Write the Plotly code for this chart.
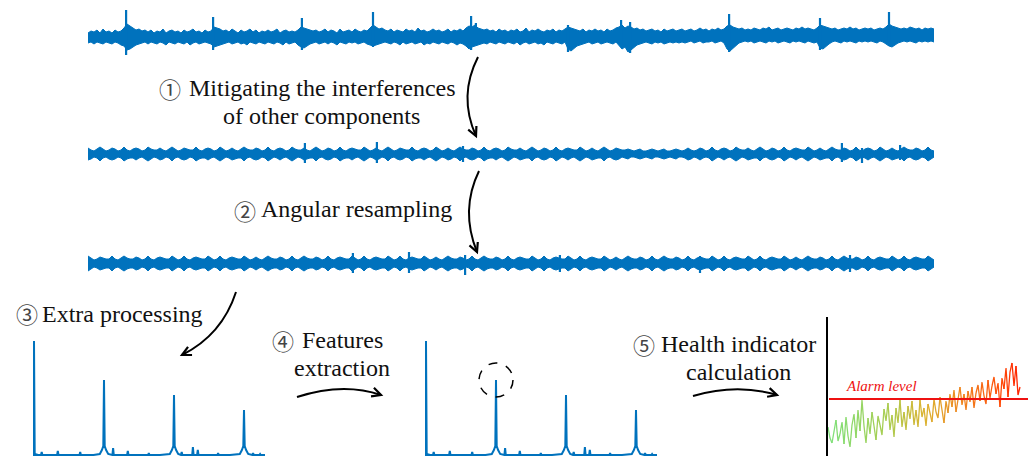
import plotly.graph_objects as go

W, H = 1033, 456
BLUE = "#0072BD"

# ---------------- data ----------------
# Raw vibration signal: upper / lower envelope (amplitude units) per time bin
sig1_up = [4,6,5,7,4,8,5,6,4,7,5,6,9,13,11,9,7,8,6,7,
           5,7,4,6,5,8,4,6,7,5,6,4,7,5,6,8,5,6,4,7,
           5,6,10,9,8,6,7,5,8,6,4,7,5,6,8,5,7,4,6,5,
           7,5,6,8,4,6,7,5,6,5,7,10,9,8,7,6,7,5,6,8,
           5,7,6,4,8,5,6,7,5,8,6,5,7,6,9,12,10,8,9,7,
           6,8,5,7,6,5,8,6,7,5,9,6,7,5,6,8,6,7,5,6,
           8,5,7,6,8,6,9,11,10,12,9,8,7,8,6,7,5,8,6,7,
           5,7,6,8,5,6,9,5,7,6,8,6,5,7,6,8,5,7,6,8,
           10,9,8,7,6,8,5,7,6,8,6,7,5,8,6,7,9,10,12,9,
           11,10,8,9,7,8,6,7,8,6,7,5,8,6,7,8,6,7,8,6,
           7,8,6,7,9,7,8,6,8,7,9,7,8,11,12,10,9,8,9,7,
           8,7,9,8,7,9,8,10,7,8,9,7,8,9,8,7,9,8,10,8,
           9,8,7,9,12,11,10,9,8,9,7,8,9,8,10,8,9,7,8,9,
           8,9,7,8,9,8,10,13,11,10,9,8,9,8,10,9,8,9,7,9,
           8,9,8]
sig1_lo = [6,5,7,5,6,7,5,6,7,5,6,8,9,13,12,10,8,7,6,5,
           7,5,6,7,5,6,8,5,6,7,5,6,7,5,8,6,5,7,6,5,
           6,7,10,9,8,7,6,5,7,6,5,7,6,8,5,6,7,5,6,7,
           5,6,7,5,6,8,5,7,6,5,8,10,11,9,7,6,5,7,6,5,
           7,5,6,8,5,6,7,5,6,5,7,6,5,7,8,9,8,7,6,5,
           6,7,5,6,8,5,7,6,5,7,6,5,8,6,7,5,6,7,5,6,
           7,5,6,8,6,7,9,12,10,9,8,7,6,7,5,6,7,5,6,7,
           5,6,7,5,8,6,5,7,6,5,7,6,8,5,6,7,5,6,7,5,
           12,14,11,9,8,7,6,5,7,6,5,7,6,5,6,7,5,8,12,10,
           15,13,10,8,7,6,5,6,7,5,6,5,7,6,5,6,5,6,5,6,
           5,4,6,5,4,6,5,5,4,6,5,4,6,12,14,11,8,6,5,4,
           5,4,6,5,4,5,6,4,5,4,6,5,4,5,6,4,5,4,5,6,
           4,5,6,5,11,12,9,7,5,4,5,6,4,5,4,5,6,4,5,4,
           5,4,5,6,4,5,7,9,10,8,6,5,4,5,4,5,6,4,5,4,
           5,4,5]
sig1_spike_t = [12.7, 41.7, 71.3, 95.0, 127.7, 129.3, 160.0, 177.7, 180.7, 213.7, 244.0, 267.0]
sig1_spike_up = [27, 20, 19, 25, 21, 14, 12, 17, 15, 23, 19, 25]
sig1_spike_lo = [18, 13, 13, 10, 13, 8, 15, 10, 16, 15, 13, 9]

# Signal after mitigating other components
sig2_up = [6,4,3,5,7,5,3,4,6,5,3,4,7,4,3,5,6,5,3,4,
           7,5,4,4,6,4,3,5,7,5,3,4,6,5,4,4,7,4,3,5,
           6,5,3,4,7,5,3,4,6,4,3,5,7,5,4,4,6,5,3,4,
           7,4,3,5,6,5,3,4,7,5,4,4,6,4,3,5,7,5,3,4,
           6,5,3,4,7,4,3,5,6,5,4,4,7,5,3,4,6,4,3,5,
           7,5,3,4,6,5,4,4,7,4,3,5,6,5,3,4,7,5,3,4,
           6,4,3,5,7,5,4,4,6,5,3,4,7,4,3,5,6,5,3,4,
           7,5,4,4,6,4,3,5,7,5,3,4,6,5,3,4,7,4,3,5,
           6,5,4,4,7,5,3,4,6,4,3,5,7,5,3,4,6,5,4,4,
           5,4,3,4,5,3,3,4,5,4,3,4,5,3,3,4,5,4,3,4,
           6,4,3,4,6,5,3,4,7,4,3,5,6,5,3,4,7,5,4,4,
           6,4,3,5,7,5,3,4,6,5,3,4,7,4,3,5,6,5,4,4,
           7,5,3,4,6,4,3,5,7,5,4,4,6,5,3,4,7,4,3,5,
           6,5,3,4,7,5,3,4,6,4,3,5,7,5,4,4,6,5,3,4,
           7,4,3]
sig2_lo = [6,5,3,4,7,4,3,5,6,5,3,4,7,5,4,4,6,4,3,5,
           7,5,3,4,6,5,3,4,7,4,3,5,6,5,3,4,7,5,4,4,
           6,4,3,5,7,5,3,4,6,5,4,4,7,4,3,5,6,5,3,4,
           7,5,3,4,6,4,3,5,7,5,3,4,6,5,4,4,7,4,3,5,
           6,5,3,4,7,5,4,4,6,4,3,5,7,5,3,4,6,5,3,4,
           7,4,3,5,6,5,3,4,7,5,4,4,6,4,3,5,7,5,3,4,
           6,5,3,4,7,4,3,5,6,5,3,4,7,5,4,4,6,4,3,5,
           7,5,3,4,6,5,4,4,7,4,3,5,6,5,3,4,7,5,3,4,
           6,4,3,5,7,5,3,4,6,5,4,4,7,4,3,5,6,5,3,4,
           5,3,3,4,5,4,3,4,5,3,3,4,5,4,3,4,5,3,3,4,
           6,5,3,4,6,4,3,4,7,5,3,4,6,4,3,5,7,5,3,4,
           6,5,4,4,7,4,3,5,6,5,3,4,7,5,3,4,6,4,3,5,
           7,5,3,4,6,5,4,4,7,4,3,5,6,5,3,4,7,5,3,4,
           6,4,3,5,7,5,3,4,6,5,4,4,7,4,3,5,6,5,3,4,
           7,5,3]
sig2_spike_t = [72.3, 96.3, 125.0, 251.3, 258.0, 270.7]
sig2_spike_up = [11, 12, 8, 11, 6, 9]
sig2_spike_lo = [9, 9, 8, 8, 9, 6]

# Angular-resampled signal
sig3_up = [8,6,4,5,7,6,5,5,8,5,4,6,8,6,5,5,7,6,4,5,
           8,5,4,6,7,6,5,5,8,6,4,5,8,5,4,6,7,6,5,5,
           8,6,4,5,8,5,4,6,7,6,5,5,8,6,4,5,7,5,4,6,
           8,6,5,5,7,6,4,5,8,5,4,6,8,6,5,5,7,6,4,5,
           8,5,4,6,7,6,5,5,8,6,4,5,8,5,4,6,7,6,5,5,
           8,6,4,5,8,5,4,6,7,6,5,5,8,6,4,5,7,5,4,6,
           8,6,5,5,7,6,4,5,8,5,4,6,8,6,5,5,7,6,4,5,
           8,5,4,6,7,6,5,5,8,6,4,5,8,5,4,6,7,6,5,5,
           8,6,4,5,8,5,4,6,7,6,5,5,8,6,4,5,7,5,4,6,
           8,6,5,5,7,6,4,5,8,5,4,6,8,6,5,5,7,6,4,5,
           8,5,4,6,7,6,5,5,8,6,4,5,8,5,4,6,7,6,5,5,
           8,6,4,5,8,5,4,6,7,6,5,5,8,6,4,5,7,5,4,6,
           8,6,5,5,7,6,4,5,8,5,4,6,8,6,5,5,7,6,4,5,
           8,5,4,6,7,6,5,5,8,6,4,5,8,5,4,6,7,6,5,5,
           8,6,4]
sig3_lo = [7,5,3,4,6,5,4,4,7,4,3,5,7,5,4,4,6,5,3,4,
           7,4,3,5,6,5,4,4,7,5,3,4,7,4,3,5,6,5,4,4,
           7,5,3,4,7,4,3,5,6,5,4,4,7,5,3,4,6,4,3,5,
           7,5,4,4,6,5,3,4,7,4,3,5,7,5,4,4,6,5,3,4,
           7,4,3,5,6,5,4,4,7,5,3,4,7,4,3,5,6,5,4,4,
           7,5,3,4,7,4,3,5,6,5,4,4,7,5,3,4,6,4,3,5,
           7,5,4,4,6,5,3,4,7,4,3,5,7,5,4,4,6,5,3,4,
           7,4,3,5,6,5,4,4,7,5,3,4,7,4,3,5,6,5,4,4,
           7,5,3,4,7,4,3,5,6,5,4,4,7,5,3,4,6,4,3,5,
           7,5,4,4,6,5,3,4,7,4,3,5,7,5,4,4,6,5,3,4,
           7,4,3,5,6,5,4,4,7,5,3,4,7,4,3,5,6,5,4,4,
           7,5,3,4,7,4,3,5,6,5,4,4,7,5,3,4,6,4,3,5,
           7,5,4,4,6,5,3,4,7,4,3,5,7,5,4,4,6,5,3,4,
           7,4,3,5,6,5,4,4,7,5,3,4,7,4,3,5,6,5,4,4,
           7,5,3]
sig3_spike_t = [88.3, 107.0, 125.7, 157.3, 204.0, 254.0]
sig3_spike_up = [11, 12, 9, 9, 8, 9]
sig3_spike_lo = [9, 9, 11, 8, 9, 8]

# Order spectrum (orders, amplitude)
spec_freq = [0.00, 0.00, 0.01, 0.06, 0.10, 0.11, 0.12, 0.18, 0.33, 0.34, 0.35, 0.45, 0.65, 0.66, 0.67,
             0.85, 0.94, 0.97, 0.99, 1.00, 1.01, 1.03, 1.06, 1.12, 1.13, 1.14, 1.26, 1.33, 1.34, 1.35,
             1.50, 1.63, 1.64, 1.65, 1.80, 1.94, 1.97, 1.99, 2.00, 2.01, 2.03, 2.06, 2.10, 2.11, 2.12,
             2.18, 2.26, 2.27, 2.28, 2.33, 2.34, 2.35, 2.50, 2.62, 2.63, 2.64, 2.80, 2.94, 2.97, 2.99,
             3.00, 3.01, 3.03, 3.06, 3.12, 3.13, 3.14, 3.22, 3.23, 3.24, 3.30]
spec_amp = [0, 115, 2, 1, 1, 4, 1, 1, 1, 5, 1, 1, 1, 4, 1,
            1, 2, 6, 10, 76, 10, 6, 2, 1, 8, 1, 1, 1, 5, 1,
            1, 1, 3, 1, 1, 2, 6, 10, 61, 10, 6, 2, 1, 4, 1,
            1, 1, 9, 1, 1, 6, 1, 1, 1, 3, 1, 1, 2, 6, 10,
            46, 10, 6, 2, 1, 3, 1, 1, 2, 1, 1]
feature_idx = 19  # selected feature (1st order peak)

# Health indicator over time
hi_vals = [29, 18, 13, 27, 36, 15, 22,
           34, 12, 39, 20, 9, 31,
           42, 18, 46, 25, 56, 30, 13, 38, 22,
           44, 27, 16, 40, 31, 21, 47, 35,
           53, 26, 41, 19, 48, 33, 56, 29,
           44, 26, 50, 37, 55, 31, 46, 29,
           56, 39, 48, 30, 52, 41, 34, 57, 44,
           38, 59, 47, 33, 55, 43, 62, 49,
           66, 44, 58, 69, 51, 62, 46, 65,
           54, 69, 48, 63, 71, 55, 74, 60, 52,
           76, 58, 70, 79, 62, 73, 49, 78,
           67, 88, 59, 84, 93, 70, 90, 61, 69]
alarm_level = 57

# ---------------- figure ----------------
fig = go.Figure()
layout = dict(width=W, height=H, margin=dict(l=0, r=0, t=0, b=0),
              paper_bgcolor="white", plot_bgcolor="white", showlegend=False)


def axname(n):
    return ("xaxis", "yaxis") if n == 1 else (f"xaxis{n}", f"yaxis{n}")


def ref(n):
    return ("x", "y") if n == 1 else (f"x{n}", f"y{n}")


def add_axes(n, x0, x1, ytop, ybot, xr, yr):
    xa, ya = axname(n)
    xr_, yr_ = ref(n)
    layout[xa] = dict(domain=[x0 / W, x1 / W], range=xr, visible=False, anchor=yr_, fixedrange=True)
    layout[ya] = dict(domain=[1 - ybot / H, 1 - ytop / H], range=yr, visible=False, anchor=xr_, fixedrange=True)


def add_signal(n, up, lo, st, sup, slo):
    xr_, yr_ = ref(n)
    t = list(range(len(up)))
    fig.add_trace(go.Scatter(x=t, y=up, mode="lines", line=dict(color=BLUE, width=1),
                             xaxis=xr_, yaxis=yr_, hoverinfo="skip"))
    fig.add_trace(go.Scatter(x=t, y=[-v for v in lo], mode="lines", line=dict(color=BLUE, width=1),
                             fill="tonexty", fillcolor=BLUE, xaxis=xr_, yaxis=yr_, hoverinfo="skip"))
    xs, ys = [], []
    for tt, a, b in zip(st, sup, slo):
        xs += [tt, tt, None]
        ys += [a, -b, None]
    fig.add_trace(go.Scatter(x=xs, y=ys, mode="lines", line=dict(color=BLUE, width=2.2),
                             xaxis=xr_, yaxis=yr_, hoverinfo="skip"))


n_bins = len(sig1_up) - 1
add_axes(1, 88, 934, 0, 70, [0, n_bins], [-33, 37])
add_axes(2, 88, 934, 120, 190, [0, n_bins], [-36, 34])
add_axes(3, 88, 934, 228, 300, [0, n_bins], [-36, 36])
add_signal(1, sig1_up, sig1_lo, sig1_spike_t, sig1_spike_up, sig1_spike_lo)
add_signal(2, sig2_up, sig2_lo, sig2_spike_t, sig2_spike_up, sig2_spike_lo)
add_signal(3, sig3_up, sig3_lo, sig3_spike_t, sig3_spike_up, sig3_spike_lo)

# spectra
ORD_PX = 70.0
for n, x0 in ((4, 34), (5, 426)):
    add_axes(n, x0 - 4, x0 + 236, 320, 456, [-4 / ORD_PX, 236 / ORD_PX], [0, 136])
    xr_, yr_ = ref(n)
    fig.add_trace(go.Scatter(x=spec_freq, y=spec_amp, mode="lines", line=dict(color=BLUE, width=2),
                             xaxis=xr_, yaxis=yr_, hoverinfo="skip"))

# health indicator panel
add_axes(6, 828, 1033, 317, 456, [0, 102.5], [0, 139])
layout["yaxis6"].update(visible=True, showline=True, linecolor="black", linewidth=1.5,
                        showticklabels=False, ticks="", showgrid=False, zeroline=False)
layout["xaxis6"].update(visible=False)

stops = [(0.0, (126, 224, 122)), (0.30, (170, 205, 80)), (0.50, (220, 178, 48)),
         (0.70, (240, 130, 30)), (0.88, (255, 80, 10)), (1.0, (255, 30, 0))]


def grad(f):
    for (f0, c0), (f1, c1) in zip(stops[:-1], stops[1:]):
        if f <= f1:
            u = (f - f0) / (f1 - f0) if f1 > f0 else 0
            c = [round(a + (b - a) * u) for a, b in zip(c0, c1)]
            return f"rgb({c[0]},{c[1]},{c[2]})"
    c = stops[-1][1]
    return f"rgb({c[0]},{c[1]},{c[2]})"


idx = list(range(len(hi_vals)))
nseg = len(hi_vals) - 1
for i in range(0, nseg, 2):
    fig.add_trace(go.Scatter(x=idx[i:i + 3], y=hi_vals[i:i + 3], mode="lines",
                             line=dict(color=grad(i / nseg), width=1.3),
                             xaxis="x6", yaxis="y6", hoverinfo="skip"))
fig.add_trace(go.Scatter(x=[0.5, 100], y=[alarm_level, alarm_level], mode="lines",
                         line=dict(color="#ee1111", width=2), xaxis="x6", yaxis="y6", hoverinfo="skip"))

# ---------------- decorations ----------------
def P(px, py):
    return px / W, 1 - py / H


shapes = []


def curved_arrow(p0, c, p1):
    (x0, y0), (cx, cy), (x1, y1) = P(*p0), P(*c), P(*p1)
    shapes.append(dict(type="path", xref="paper", yref="paper",
                       path=f"M {x0},{y0} Q {cx},{cy} {x1},{y1}",
                       line=dict(color="black", width=2)))
    dx, dy = p1[0] - c[0], p1[1] - c[1]
    L = (dx * dx + dy * dy) ** 0.5
    dx, dy = dx / L, dy / L
    bx, by = p1[0] - 9 * dx, p1[1] - 9 * dy
    w1 = P(bx + 4.5 * dy, by - 4.5 * dx)
    w2 = P(bx - 4.5 * dy, by + 4.5 * dx)
    tip = P(*p1)
    shapes.append(dict(type="path", xref="paper", yref="paper",
                       path=f"M {w1[0]},{w1[1]} L {tip[0]},{tip[1]} L {w2[0]},{w2[1]}",
                       line=dict(color="black", width=2.2)))


curved_arrow((478, 57), (458, 96), (476, 136))
curved_arrow((479, 171), (460, 210), (477, 252))
curved_arrow((236, 292), (222, 335), (182, 355))
curved_arrow((297, 397), (343, 382), (381, 395))
curved_arrow((693, 396), (737, 383), (777, 395))

# dashed circle around selected feature peak (spectrum 2)
rx, ry = 17 / ORD_PX, 17
fx, fy = spec_freq[feature_idx], spec_amp[feature_idx]
shapes.append(dict(type="circle", xref="x5", yref="y5", x0=fx - rx, x1=fx + rx, y0=fy - ry, y1=fy + ry,
                   line=dict(color="black", width=1.5, dash="dash")))

SERIF = "Liberation Serif, Times New Roman, serif"
CIRC = "Noto Sans CJK SC, DejaVu Sans, sans-serif"
texts = [
    ("①", 170, 88, CIRC, 22), ("Mitigating the interferences", 322, 88, SERIF, 24),
    ("of other components", 321, 116, SERIF, 24),
    ("②", 245, 210, CIRC, 22), ("Angular resampling", 356, 209, SERIF, 24),
    ("③", 27, 313, CIRC, 22), ("Extra processing", 122, 314, SERIF, 24),
    ("④", 283, 340, CIRC, 22), ("Features", 342, 340, SERIF, 24),
    ("extraction", 342, 368, SERIF, 24),
    ("⑤", 644, 344, CIRC, 22), ("Health indicator", 738, 344, SERIF, 24),
    ("calculation", 738, 372, SERIF, 24),
]
annotations = []
for t, cx, cy, fam, sz in texts:
    x, y = P(cx, cy)
    annotations.append(dict(text=t, x=x, y=y, xref="paper", yref="paper", showarrow=False,
                            xanchor="center", yanchor="middle",
                            font=dict(family=fam, size=sz, color="#111" if fam == SERIF else "#444")))
annotations.append(dict(text="<i>Alarm level</i>", x=8, y=alarm_level + 3, xref="x6", yref="y6",
                        showarrow=False, xanchor="left", yanchor="bottom",
                        font=dict(family=SERIF, size=15, color="#ee1111")))

layout["shapes"] = shapes
layout["annotations"] = annotations
fig.update_layout(**layout)
fig.write_html("out.html")
